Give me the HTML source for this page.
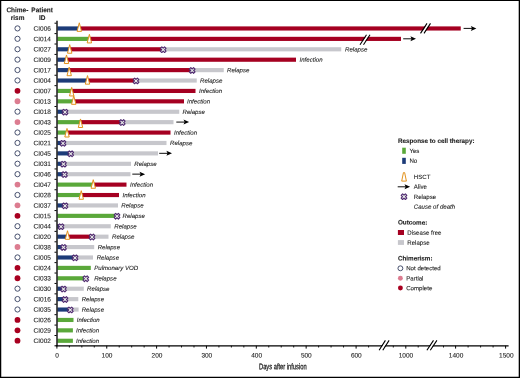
<!DOCTYPE html>
<html><head><meta charset="utf-8"><title>Swimmer plot</title>
<style>html,body{margin:0;padding:0;background:#fff}svg{display:block}text{text-rendering:geometricPrecision;font-family:"Liberation Sans",sans-serif;fill:#222;stroke:#222;stroke-width:0.1px}</style>
</head><body>
<svg width="520" height="378" viewBox="0 0 520 378">
<rect x="0" y="0" width="520" height="378" fill="#fff"/>
<path d="M0 0 H520 V378 H0 Z M1.25 1.1 V376.7 H518.7 V1.1 Z" fill="#000" fill-rule="evenodd"/>
<text transform="translate(17.4,12.15) rotate(0.1) scale(0.95,1)" font-weight="bold" font-size="6.8" text-anchor="middle" fill="#000" stroke="#000" stroke-width="0.22">Chime-</text>
<text transform="translate(17.6,19.9) rotate(0.1) scale(0.95,1)" font-weight="bold" font-size="6.8" text-anchor="middle" fill="#000" stroke="#000" stroke-width="0.22">rism</text>
<text transform="translate(42.1,12.15) rotate(0.1) scale(0.95,1)" font-weight="bold" font-size="6.8" text-anchor="middle" fill="#000" stroke="#000" stroke-width="0.22">Patient</text>
<text transform="translate(42.3,19.9) rotate(0.1) scale(0.95,1)" font-weight="bold" font-size="6.8" text-anchor="middle" fill="#000" stroke="#000" stroke-width="0.22">ID</text>
<circle cx="17.5" cy="28.40" r="2.6" fill="#fff" stroke="#47506e" stroke-width="1.0"/>
<text transform="translate(33.6,30.75) rotate(0.1)" font-size="6.5">CI006</text>
<rect x="57.50" y="26.40" width="21.80" height="4.15" fill="#1c3b78"/>
<rect x="79.30" y="26.40" width="381.45" height="4.15" fill="#a50021"/>
<path d="M421.10 33.40 L427.60 23.40 L429.90 23.40 L423.40 33.40 Z" fill="#fff"/><path d="M420.50 33.40 L427.00 23.40 M424.00 33.40 L430.50 23.40" stroke="#000" stroke-width="1.1"/>
<path d="M79.30 22.80 L81.50 31.35 L77.10 31.35 Z" fill="#fff" stroke="#e2921d" stroke-width="1.0" stroke-linejoin="round"/>
<path d="M463.60 28.40 H473.40" stroke="#000" stroke-width="0.95"/><path d="M476.40 28.40 L470.80 25.90 L472.00 28.40 L470.80 30.90 Z" fill="#000"/>
<circle cx="17.5" cy="38.81" r="2.6" fill="#fff" stroke="#47506e" stroke-width="1.0"/>
<text transform="translate(33.6,41.16) rotate(0.1)" font-size="6.5">CI014</text>
<rect x="57.50" y="36.81" width="31.90" height="4.15" fill="#5aa83a"/>
<rect x="89.40" y="36.81" width="311.60" height="4.15" fill="#a50021"/>
<path d="M360.60 44.81 L367.10 34.81 L369.40 34.81 L362.90 44.81 Z" fill="#fff"/><path d="M360.00 44.81 L366.50 34.81 M363.50 44.81 L370.00 34.81" stroke="#000" stroke-width="1.1"/>
<path d="M89.40 34.36 L91.60 42.91 L87.20 42.91 Z" fill="#fff" stroke="#e2921d" stroke-width="1.0" stroke-linejoin="round"/>
<path d="M403.20 38.81 H413.00" stroke="#000" stroke-width="0.95"/><path d="M416.00 38.81 L410.40 36.31 L411.60 38.81 L410.40 41.31 Z" fill="#000"/>
<circle cx="17.5" cy="49.22" r="2.6" fill="#fff" stroke="#47506e" stroke-width="1.0"/>
<text transform="translate(33.6,51.57) rotate(0.1)" font-size="6.5">CI027</text>
<rect x="57.50" y="47.22" width="12.20" height="4.15" fill="#1c3b78"/>
<rect x="69.70" y="47.22" width="93.50" height="4.15" fill="#a50021"/>
<rect x="163.20" y="47.22" width="178.05" height="4.15" fill="#c7c7cc"/>
<path d="M164.58 46.81 L166.06 48.29 L164.68 49.67 L166.06 51.05 L164.58 52.53 L163.20 51.15 L161.82 52.53 L160.34 51.05 L161.72 49.67 L160.34 48.29 L161.82 46.81 L163.20 48.19 Z" fill="#e9ece8" stroke="#4f2a70" stroke-width="1.1" stroke-linejoin="round"/>
<path d="M69.70 44.67 L71.90 53.22 L67.50 53.22 Z" fill="#fff" stroke="#e2921d" stroke-width="1.0" stroke-linejoin="round"/>
<text transform="translate(345,51.42) rotate(0.1)" font-size="6.1" font-style="italic">Relapse</text>
<circle cx="17.5" cy="59.63" r="2.6" fill="#fff" stroke="#47506e" stroke-width="1.0"/>
<text transform="translate(33.6,61.98) rotate(0.1)" font-size="6.5">CI009</text>
<rect x="57.50" y="57.63" width="9.00" height="4.15" fill="#1c3b78"/>
<rect x="66.50" y="57.63" width="229.50" height="4.15" fill="#a50021"/>
<path d="M66.50 54.98 L68.70 63.53 L64.30 63.53 Z" fill="#fff" stroke="#e2921d" stroke-width="1.0" stroke-linejoin="round"/>
<text transform="translate(299.5,61.83) rotate(0.1)" font-size="6.1" font-style="italic">Infection</text>
<circle cx="17.5" cy="70.04" r="2.6" fill="#fff" stroke="#47506e" stroke-width="1.0"/>
<text transform="translate(33.6,72.39) rotate(0.1)" font-size="6.5">CI017</text>
<rect x="57.50" y="68.04" width="11.70" height="4.15" fill="#1c3b78"/>
<rect x="69.20" y="68.04" width="123.00" height="4.15" fill="#a50021"/>
<rect x="192.20" y="68.04" width="31.55" height="4.15" fill="#c7c7cc"/>
<path d="M193.58 67.63 L195.06 69.11 L193.68 70.49 L195.06 71.87 L193.58 73.35 L192.20 71.97 L190.82 73.35 L189.34 71.87 L190.72 70.49 L189.34 69.11 L190.82 67.63 L192.20 69.01 Z" fill="#e9ece8" stroke="#4f2a70" stroke-width="1.1" stroke-linejoin="round"/>
<path d="M69.20 67.14 L71.40 75.69 L67.00 75.69 Z" fill="#fff" stroke="#e2921d" stroke-width="1.0" stroke-linejoin="round"/>
<text transform="translate(227,72.24) rotate(0.1)" font-size="6.1" font-style="italic">Relapse</text>
<circle cx="17.5" cy="80.45" r="2.6" fill="#fff" stroke="#47506e" stroke-width="1.0"/>
<text transform="translate(33.6,82.80) rotate(0.1)" font-size="6.5">CI004</text>
<rect x="57.50" y="78.45" width="30.00" height="4.15" fill="#1c3b78"/>
<rect x="87.50" y="78.45" width="48.50" height="4.15" fill="#a50021"/>
<rect x="136.00" y="78.45" width="60.75" height="4.15" fill="#c7c7cc"/>
<path d="M137.38 78.04 L138.86 79.52 L137.48 80.90 L138.86 82.28 L137.38 83.76 L136.00 82.38 L134.62 83.76 L133.14 82.28 L134.52 80.90 L133.14 79.52 L134.62 78.04 L136.00 79.42 Z" fill="#e9ece8" stroke="#4f2a70" stroke-width="1.1" stroke-linejoin="round"/>
<path d="M87.50 75.60 L89.70 84.15 L85.30 84.15 Z" fill="#fff" stroke="#e2921d" stroke-width="1.0" stroke-linejoin="round"/>
<text transform="translate(200,82.65) rotate(0.1)" font-size="6.1" font-style="italic">Relapse</text>
<circle cx="17.5" cy="90.86" r="2.9" fill="#a80020"/>
<text transform="translate(33.6,93.21) rotate(0.1)" font-size="6.5">CI007</text>
<rect x="57.50" y="88.86" width="14.20" height="4.15" fill="#5aa83a"/>
<rect x="71.70" y="88.86" width="123.80" height="4.15" fill="#a50021"/>
<path d="M71.70 87.41 L73.90 95.96 L69.50 95.96 Z" fill="#fff" stroke="#e2921d" stroke-width="1.0" stroke-linejoin="round"/>
<text transform="translate(199,93.06) rotate(0.1)" font-size="6.1" font-style="italic">Infection</text>
<circle cx="17.5" cy="101.27" r="2.9" fill="#dc7c90"/>
<text transform="translate(33.6,103.62) rotate(0.1)" font-size="6.5">CI013</text>
<rect x="57.50" y="99.27" width="16.25" height="4.15" fill="#5aa83a"/>
<rect x="73.75" y="99.27" width="110.25" height="4.15" fill="#a50021"/>
<path d="M73.75 95.77 L75.95 104.32 L71.55 104.32 Z" fill="#fff" stroke="#e2921d" stroke-width="1.0" stroke-linejoin="round"/>
<text transform="translate(187,103.47) rotate(0.1)" font-size="6.1" font-style="italic">Infection</text>
<circle cx="17.5" cy="111.68" r="2.6" fill="#fff" stroke="#47506e" stroke-width="1.0"/>
<text transform="translate(33.6,114.03) rotate(0.1)" font-size="6.5">CI018</text>
<rect x="57.50" y="109.68" width="7.50" height="4.15" fill="#1c3b78"/>
<rect x="65.00" y="109.68" width="114.25" height="4.15" fill="#c7c7cc"/>
<path d="M66.38 109.27 L67.86 110.75 L66.48 112.13 L67.86 113.51 L66.38 114.99 L65.00 113.61 L63.62 114.99 L62.14 113.51 L63.52 112.13 L62.14 110.75 L63.62 109.27 L65.00 110.65 Z" fill="#e9ece8" stroke="#4f2a70" stroke-width="1.1" stroke-linejoin="round"/>
<text transform="translate(182.5,113.88) rotate(0.1)" font-size="6.1" font-style="italic">Relapse</text>
<circle cx="17.5" cy="122.09" r="2.9" fill="#dc7c90"/>
<text transform="translate(33.6,124.44) rotate(0.1)" font-size="6.5">CI043</text>
<rect x="57.50" y="120.09" width="23.00" height="4.15" fill="#5aa83a"/>
<rect x="80.50" y="120.09" width="41.75" height="4.15" fill="#a50021"/>
<rect x="122.25" y="120.09" width="51.25" height="4.15" fill="#c7c7cc"/>
<path d="M123.63 119.68 L125.11 121.16 L123.73 122.54 L125.11 123.92 L123.63 125.40 L122.25 124.02 L120.87 125.40 L119.39 123.92 L120.77 122.54 L119.39 121.16 L120.87 119.68 L122.25 121.06 Z" fill="#e9ece8" stroke="#4f2a70" stroke-width="1.1" stroke-linejoin="round"/>
<path d="M80.50 118.94 L82.70 127.49 L78.30 127.49 Z" fill="#fff" stroke="#e2921d" stroke-width="1.0" stroke-linejoin="round"/>
<path d="M176.30 122.09 H186.10" stroke="#000" stroke-width="0.95"/><path d="M189.10 122.09 L183.50 119.59 L184.70 122.09 L183.50 124.59 Z" fill="#000"/>
<circle cx="17.5" cy="132.50" r="2.6" fill="#fff" stroke="#47506e" stroke-width="1.0"/>
<text transform="translate(33.6,134.85) rotate(0.1)" font-size="6.5">CI025</text>
<rect x="57.50" y="130.50" width="9.50" height="4.15" fill="#5aa83a"/>
<rect x="67.00" y="130.50" width="103.50" height="4.15" fill="#a50021"/>
<path d="M67.00 128.45 L69.20 137.00 L64.80 137.00 Z" fill="#fff" stroke="#e2921d" stroke-width="1.0" stroke-linejoin="round"/>
<text transform="translate(174,134.70) rotate(0.1)" font-size="6.1" font-style="italic">Infection</text>
<circle cx="17.5" cy="142.91" r="2.6" fill="#fff" stroke="#47506e" stroke-width="1.0"/>
<text transform="translate(33.6,145.26) rotate(0.1)" font-size="6.5">CI021</text>
<rect x="57.50" y="140.91" width="5.50" height="4.15" fill="#1c3b78"/>
<rect x="63.00" y="140.91" width="103.50" height="4.15" fill="#c7c7cc"/>
<path d="M64.38 140.50 L65.86 141.98 L64.48 143.36 L65.86 144.74 L64.38 146.22 L63.00 144.84 L61.62 146.22 L60.14 144.74 L61.52 143.36 L60.14 141.98 L61.62 140.50 L63.00 141.88 Z" fill="#e9ece8" stroke="#4f2a70" stroke-width="1.1" stroke-linejoin="round"/>
<text transform="translate(170,145.11) rotate(0.1)" font-size="6.1" font-style="italic">Relapse</text>
<circle cx="17.5" cy="153.32" r="2.6" fill="#fff" stroke="#47506e" stroke-width="1.0"/>
<text transform="translate(33.6,155.67) rotate(0.1)" font-size="6.5">CI045</text>
<rect x="57.50" y="151.32" width="13.20" height="4.15" fill="#1c3b78"/>
<rect x="70.70" y="151.32" width="87.30" height="4.15" fill="#c7c7cc"/>
<path d="M72.08 150.91 L73.56 152.39 L72.18 153.77 L73.56 155.15 L72.08 156.63 L70.70 155.25 L69.32 156.63 L67.84 155.15 L69.22 153.77 L67.84 152.39 L69.32 150.91 L70.70 152.29 Z" fill="#e9ece8" stroke="#4f2a70" stroke-width="1.1" stroke-linejoin="round"/>
<path d="M159.20 153.32 H169.00" stroke="#000" stroke-width="0.95"/><path d="M172.00 153.32 L166.40 150.82 L167.60 153.32 L166.40 155.82 Z" fill="#000"/>
<circle cx="17.5" cy="163.73" r="2.6" fill="#fff" stroke="#47506e" stroke-width="1.0"/>
<text transform="translate(33.6,166.08) rotate(0.1)" font-size="6.5">CI031</text>
<rect x="57.50" y="161.73" width="6.00" height="4.15" fill="#1c3b78"/>
<rect x="63.50" y="161.73" width="67.50" height="4.15" fill="#c7c7cc"/>
<path d="M64.88 161.32 L66.36 162.80 L64.98 164.18 L66.36 165.56 L64.88 167.04 L63.50 165.66 L62.12 167.04 L60.64 165.56 L62.02 164.18 L60.64 162.80 L62.12 161.32 L63.50 162.70 Z" fill="#e9ece8" stroke="#4f2a70" stroke-width="1.1" stroke-linejoin="round"/>
<text transform="translate(134.25,165.93) rotate(0.1)" font-size="6.1" font-style="italic">Relapse</text>
<circle cx="17.5" cy="174.14" r="2.6" fill="#fff" stroke="#47506e" stroke-width="1.0"/>
<text transform="translate(33.6,176.49) rotate(0.1)" font-size="6.5">CI046</text>
<rect x="57.50" y="172.14" width="7.00" height="4.15" fill="#1c3b78"/>
<rect x="64.50" y="172.14" width="66.00" height="4.15" fill="#c7c7cc"/>
<path d="M65.88 171.73 L67.36 173.21 L65.98 174.59 L67.36 175.97 L65.88 177.45 L64.50 176.07 L63.12 177.45 L61.64 175.97 L63.02 174.59 L61.64 173.21 L63.12 171.73 L64.50 173.11 Z" fill="#e9ece8" stroke="#4f2a70" stroke-width="1.1" stroke-linejoin="round"/>
<path d="M132.30 174.14 H142.10" stroke="#000" stroke-width="0.95"/><path d="M145.10 174.14 L139.50 171.64 L140.70 174.14 L139.50 176.64 Z" fill="#000"/>
<circle cx="17.5" cy="184.55" r="2.9" fill="#dc7c90"/>
<text transform="translate(33.6,186.90) rotate(0.1)" font-size="6.5">CI047</text>
<rect x="57.50" y="182.55" width="35.75" height="4.15" fill="#5aa83a"/>
<rect x="93.25" y="182.55" width="33.25" height="4.15" fill="#a50021"/>
<path d="M93.25 179.70 L95.45 188.25 L91.05 188.25 Z" fill="#fff" stroke="#e2921d" stroke-width="1.0" stroke-linejoin="round"/>
<text transform="translate(130,186.75) rotate(0.1)" font-size="6.1" font-style="italic">Infection</text>
<circle cx="17.5" cy="194.96" r="2.6" fill="#fff" stroke="#47506e" stroke-width="1.0"/>
<text transform="translate(33.6,197.31) rotate(0.1)" font-size="6.5">CI028</text>
<rect x="57.50" y="192.96" width="23.75" height="4.15" fill="#5aa83a"/>
<rect x="81.25" y="192.96" width="37.75" height="4.15" fill="#a50021"/>
<path d="M81.25 190.71 L83.45 199.26 L79.05 199.26 Z" fill="#fff" stroke="#e2921d" stroke-width="1.0" stroke-linejoin="round"/>
<text transform="translate(122.5,197.16) rotate(0.1)" font-size="6.1" font-style="italic">Infection</text>
<circle cx="17.5" cy="205.37" r="2.9" fill="#dc7c90"/>
<text transform="translate(33.6,207.72) rotate(0.1)" font-size="6.5">CI037</text>
<rect x="57.50" y="203.37" width="7.50" height="4.15" fill="#1c3b78"/>
<rect x="65.00" y="203.37" width="53.00" height="4.15" fill="#c7c7cc"/>
<path d="M66.38 202.96 L67.86 204.44 L66.48 205.82 L67.86 207.20 L66.38 208.68 L65.00 207.30 L63.62 208.68 L62.14 207.20 L63.52 205.82 L62.14 204.44 L63.62 202.96 L65.00 204.34 Z" fill="#e9ece8" stroke="#4f2a70" stroke-width="1.1" stroke-linejoin="round"/>
<text transform="translate(121.25,207.57) rotate(0.1)" font-size="6.1" font-style="italic">Relapse</text>
<circle cx="17.5" cy="215.78" r="2.9" fill="#a80020"/>
<text transform="translate(33.6,218.13) rotate(0.1)" font-size="6.5">CI015</text>
<rect x="57.50" y="213.78" width="59.00" height="4.15" fill="#5aa83a"/>
<path d="M118.38 213.37 L119.86 214.85 L118.48 216.23 L119.86 217.61 L118.38 219.09 L117.00 217.71 L115.62 219.09 L114.14 217.61 L115.52 216.23 L114.14 214.85 L115.62 213.37 L117.00 214.75 Z" fill="#e9ece8" stroke="#4f2a70" stroke-width="1.1" stroke-linejoin="round"/>
<text transform="translate(122.5,217.98) rotate(0.1)" font-size="6.1" font-style="italic">Relapse</text>
<circle cx="17.5" cy="226.19" r="2.6" fill="#fff" stroke="#47506e" stroke-width="1.0"/>
<text transform="translate(33.6,228.54) rotate(0.1)" font-size="6.5">CI044</text>
<rect x="57.50" y="224.19" width="3.50" height="4.15" fill="#1c3b78"/>
<rect x="61.00" y="224.19" width="49.75" height="4.15" fill="#c7c7cc"/>
<path d="M62.38 223.78 L63.86 225.26 L62.48 226.64 L63.86 228.02 L62.38 229.50 L61.00 228.12 L59.62 229.50 L58.14 228.02 L59.52 226.64 L58.14 225.26 L59.62 223.78 L61.00 225.16 Z" fill="#e9ece8" stroke="#4f2a70" stroke-width="1.1" stroke-linejoin="round"/>
<text transform="translate(114.25,228.39) rotate(0.1)" font-size="6.1" font-style="italic">Relapse</text>
<circle cx="17.5" cy="236.60" r="2.6" fill="#fff" stroke="#47506e" stroke-width="1.0"/>
<text transform="translate(33.6,238.95) rotate(0.1)" font-size="6.5">CI020</text>
<rect x="57.50" y="234.60" width="10.00" height="4.15" fill="#1c3b78"/>
<rect x="67.50" y="234.60" width="24.50" height="4.15" fill="#a50021"/>
<rect x="92.00" y="234.60" width="16.50" height="4.15" fill="#c7c7cc"/>
<path d="M93.38 234.19 L94.86 235.67 L93.48 237.05 L94.86 238.43 L93.38 239.91 L92.00 238.53 L90.62 239.91 L89.14 238.43 L90.52 237.05 L89.14 235.67 L90.62 234.19 L92.00 235.57 Z" fill="#e9ece8" stroke="#4f2a70" stroke-width="1.1" stroke-linejoin="round"/>
<path d="M67.50 230.75 L69.70 239.30 L65.30 239.30 Z" fill="#fff" stroke="#e2921d" stroke-width="1.0" stroke-linejoin="round"/>
<text transform="translate(112,238.80) rotate(0.1)" font-size="6.1" font-style="italic">Relapse</text>
<circle cx="17.5" cy="247.01" r="2.9" fill="#dc7c90"/>
<text transform="translate(33.6,249.36) rotate(0.1)" font-size="6.5">CI038</text>
<rect x="57.50" y="245.01" width="6.00" height="4.15" fill="#1c3b78"/>
<rect x="63.50" y="245.01" width="30.70" height="4.15" fill="#c7c7cc"/>
<path d="M64.88 244.60 L66.36 246.08 L64.98 247.46 L66.36 248.84 L64.88 250.32 L63.50 248.94 L62.12 250.32 L60.64 248.84 L62.02 247.46 L60.64 246.08 L62.12 244.60 L63.50 245.98 Z" fill="#e9ece8" stroke="#4f2a70" stroke-width="1.1" stroke-linejoin="round"/>
<text transform="translate(97.7,249.21) rotate(0.1)" font-size="6.1" font-style="italic">Relapse</text>
<circle cx="17.5" cy="257.42" r="2.6" fill="#fff" stroke="#47506e" stroke-width="1.0"/>
<text transform="translate(33.6,259.77) rotate(0.1)" font-size="6.5">CI005</text>
<rect x="57.50" y="255.42" width="17.50" height="4.15" fill="#1c3b78"/>
<rect x="75.00" y="255.42" width="18.00" height="4.15" fill="#c7c7cc"/>
<path d="M76.38 255.01 L77.86 256.49 L76.48 257.87 L77.86 259.25 L76.38 260.73 L75.00 259.35 L73.62 260.73 L72.14 259.25 L73.52 257.87 L72.14 256.49 L73.62 255.01 L75.00 256.39 Z" fill="#e9ece8" stroke="#4f2a70" stroke-width="1.1" stroke-linejoin="round"/>
<text transform="translate(96.7,259.62) rotate(0.1)" font-size="6.1" font-style="italic">Relapse</text>
<circle cx="17.5" cy="267.83" r="2.9" fill="#a80020"/>
<text transform="translate(33.6,270.18) rotate(0.1)" font-size="6.5">CI024</text>
<rect x="57.50" y="265.83" width="33.30" height="4.15" fill="#5aa83a"/>
<text transform="translate(94.2,270.03) rotate(0.1)" font-size="6.1" font-style="italic">Pulmonary VOD</text>
<circle cx="17.5" cy="278.24" r="2.9" fill="#a80020"/>
<text transform="translate(33.6,280.59) rotate(0.1)" font-size="6.5">CI033</text>
<rect x="57.50" y="276.24" width="28.30" height="4.15" fill="#5aa83a"/>
<path d="M87.18 275.83 L88.66 277.31 L87.28 278.69 L88.66 280.07 L87.18 281.55 L85.80 280.17 L84.42 281.55 L82.94 280.07 L84.32 278.69 L82.94 277.31 L84.42 275.83 L85.80 277.21 Z" fill="#e9ece8" stroke="#4f2a70" stroke-width="1.1" stroke-linejoin="round"/>
<text transform="translate(94.2,280.44) rotate(0.1)" font-size="6.1" font-style="italic">Relapse</text>
<circle cx="17.5" cy="288.65" r="2.6" fill="#fff" stroke="#47506e" stroke-width="1.0"/>
<text transform="translate(33.6,291.00) rotate(0.1)" font-size="6.5">CI030</text>
<rect x="57.50" y="286.65" width="6.00" height="4.15" fill="#1c3b78"/>
<rect x="63.50" y="286.65" width="20.30" height="4.15" fill="#c7c7cc"/>
<path d="M64.88 286.24 L66.36 287.72 L64.98 289.10 L66.36 290.48 L64.88 291.96 L63.50 290.58 L62.12 291.96 L60.64 290.48 L62.02 289.10 L60.64 287.72 L62.12 286.24 L63.50 287.62 Z" fill="#e9ece8" stroke="#4f2a70" stroke-width="1.1" stroke-linejoin="round"/>
<text transform="translate(87.1,290.85) rotate(0.1)" font-size="6.1" font-style="italic">Relapse</text>
<circle cx="17.5" cy="299.06" r="2.6" fill="#fff" stroke="#47506e" stroke-width="1.0"/>
<text transform="translate(33.6,301.41) rotate(0.1)" font-size="6.5">CI016</text>
<rect x="57.50" y="297.06" width="7.50" height="4.15" fill="#1c3b78"/>
<rect x="65.00" y="297.06" width="13.30" height="4.15" fill="#c7c7cc"/>
<path d="M66.38 296.65 L67.86 298.13 L66.48 299.51 L67.86 300.89 L66.38 302.37 L65.00 300.99 L63.62 302.37 L62.14 300.89 L63.52 299.51 L62.14 298.13 L63.62 296.65 L65.00 298.03 Z" fill="#e9ece8" stroke="#4f2a70" stroke-width="1.1" stroke-linejoin="round"/>
<text transform="translate(81.7,301.26) rotate(0.1)" font-size="6.1" font-style="italic">Relapse</text>
<circle cx="17.5" cy="309.47" r="2.6" fill="#fff" stroke="#47506e" stroke-width="1.0"/>
<text transform="translate(33.6,311.82) rotate(0.1)" font-size="6.5">CI035</text>
<rect x="57.50" y="307.47" width="12.80" height="4.15" fill="#1c3b78"/>
<rect x="70.30" y="307.47" width="8.30" height="4.15" fill="#c7c7cc"/>
<path d="M71.68 307.06 L73.16 308.54 L71.78 309.92 L73.16 311.30 L71.68 312.78 L70.30 311.40 L68.92 312.78 L67.44 311.30 L68.82 309.92 L67.44 308.54 L68.92 307.06 L70.30 308.44 Z" fill="#e9ece8" stroke="#4f2a70" stroke-width="1.1" stroke-linejoin="round"/>
<text transform="translate(81.7,311.67) rotate(0.1)" font-size="6.1" font-style="italic">Relapse</text>
<circle cx="17.5" cy="319.88" r="2.9" fill="#a80020"/>
<text transform="translate(33.6,322.23) rotate(0.1)" font-size="6.5">CI026</text>
<rect x="57.50" y="317.88" width="16.00" height="4.15" fill="#5aa83a"/>
<text transform="translate(76.7,322.08) rotate(0.1)" font-size="6.1" font-style="italic">Infection</text>
<circle cx="17.5" cy="330.29" r="2.9" fill="#a80020"/>
<text transform="translate(33.6,332.64) rotate(0.1)" font-size="6.5">CI029</text>
<rect x="57.50" y="328.29" width="15.40" height="4.15" fill="#5aa83a"/>
<text transform="translate(76,332.49) rotate(0.1)" font-size="6.1" font-style="italic">Infection</text>
<circle cx="17.5" cy="340.70" r="2.9" fill="#a80020"/>
<text transform="translate(33.6,343.05) rotate(0.1)" font-size="6.5">CI002</text>
<rect x="57.50" y="338.70" width="15.40" height="4.15" fill="#5aa83a"/>
<text transform="translate(76,342.90) rotate(0.1)" font-size="6.1" font-style="italic">Infection</text>
<path d="M57 20.7 V346.3" stroke="#000" stroke-width="1.35"/>
<path d="M54.5 23.20 H56.6" stroke="#000" stroke-width="1.0"/>
<path d="M54.5 33.61 H56.6" stroke="#000" stroke-width="1.0"/>
<path d="M54.5 44.02 H56.6" stroke="#000" stroke-width="1.0"/>
<path d="M54.5 54.42 H56.6" stroke="#000" stroke-width="1.0"/>
<path d="M54.5 64.84 H56.6" stroke="#000" stroke-width="1.0"/>
<path d="M54.5 75.25 H56.6" stroke="#000" stroke-width="1.0"/>
<path d="M54.5 85.66 H56.6" stroke="#000" stroke-width="1.0"/>
<path d="M54.5 96.06 H56.6" stroke="#000" stroke-width="1.0"/>
<path d="M54.5 106.47 H56.6" stroke="#000" stroke-width="1.0"/>
<path d="M54.5 116.88 H56.6" stroke="#000" stroke-width="1.0"/>
<path d="M54.5 127.29 H56.6" stroke="#000" stroke-width="1.0"/>
<path d="M54.5 137.71 H56.6" stroke="#000" stroke-width="1.0"/>
<path d="M54.5 148.12 H56.6" stroke="#000" stroke-width="1.0"/>
<path d="M54.5 158.53 H56.6" stroke="#000" stroke-width="1.0"/>
<path d="M54.5 168.94 H56.6" stroke="#000" stroke-width="1.0"/>
<path d="M54.5 179.34 H56.6" stroke="#000" stroke-width="1.0"/>
<path d="M54.5 189.75 H56.6" stroke="#000" stroke-width="1.0"/>
<path d="M54.5 200.16 H56.6" stroke="#000" stroke-width="1.0"/>
<path d="M54.5 210.57 H56.6" stroke="#000" stroke-width="1.0"/>
<path d="M54.5 220.98 H56.6" stroke="#000" stroke-width="1.0"/>
<path d="M54.5 231.39 H56.6" stroke="#000" stroke-width="1.0"/>
<path d="M54.5 241.81 H56.6" stroke="#000" stroke-width="1.0"/>
<path d="M54.5 252.22 H56.6" stroke="#000" stroke-width="1.0"/>
<path d="M54.5 262.62 H56.6" stroke="#000" stroke-width="1.0"/>
<path d="M54.5 273.04 H56.6" stroke="#000" stroke-width="1.0"/>
<path d="M54.5 283.44 H56.6" stroke="#000" stroke-width="1.0"/>
<path d="M54.5 293.86 H56.6" stroke="#000" stroke-width="1.0"/>
<path d="M54.5 304.26 H56.6" stroke="#000" stroke-width="1.0"/>
<path d="M54.5 314.68 H56.6" stroke="#000" stroke-width="1.0"/>
<path d="M54.5 325.08 H56.6" stroke="#000" stroke-width="1.0"/>
<path d="M54.5 335.50 H56.6" stroke="#000" stroke-width="1.0"/>
<path d="M54.5 345.8 H57" stroke="#000" stroke-width="1.1"/>
<path d="M56.4 345.8 H508.6" stroke="#000" stroke-width="1.25"/>
<path d="M56.90 345.8 V348.6" stroke="#000" stroke-width="1.0"/>
<text transform="translate(57,357.55) rotate(0.1)" font-size="6.5" text-anchor="middle">0</text>
<path d="M106.75 345.8 V348.6" stroke="#000" stroke-width="1.0"/>
<text transform="translate(107,357.55) rotate(0.1)" font-size="6.5" text-anchor="middle">100</text>
<path d="M156.60 345.8 V348.6" stroke="#000" stroke-width="1.0"/>
<text transform="translate(157,357.55) rotate(0.1)" font-size="6.5" text-anchor="middle">200</text>
<path d="M206.45 345.8 V348.6" stroke="#000" stroke-width="1.0"/>
<text transform="translate(206.8,357.55) rotate(0.1)" font-size="6.5" text-anchor="middle">300</text>
<path d="M256.30 345.8 V348.6" stroke="#000" stroke-width="1.0"/>
<text transform="translate(256.6,357.55) rotate(0.1)" font-size="6.5" text-anchor="middle">400</text>
<path d="M306.15 345.8 V348.6" stroke="#000" stroke-width="1.0"/>
<text transform="translate(306.3,357.55) rotate(0.1)" font-size="6.5" text-anchor="middle">500</text>
<path d="M356.10 345.8 V348.6" stroke="#000" stroke-width="1.0"/>
<text transform="translate(356.3,357.55) rotate(0.1)" font-size="6.5" text-anchor="middle">600</text>
<path d="M405.80 345.8 V348.6" stroke="#000" stroke-width="1.0"/>
<text transform="translate(405.9,357.55) rotate(0.1)" font-size="6.5" text-anchor="middle">1000</text>
<path d="M455.60 345.8 V348.6" stroke="#000" stroke-width="1.0"/>
<text transform="translate(456.1,357.55) rotate(0.1)" font-size="6.5" text-anchor="middle">1400</text>
<path d="M505.60 345.8 V348.6" stroke="#000" stroke-width="1.0"/>
<text transform="translate(506.3,357.55) rotate(0.1)" font-size="6.5" text-anchor="middle">1500</text>
<path d="M69.36 345.8 V347.5" stroke="#000" stroke-width="0.9"/>
<path d="M81.83 345.8 V347.5" stroke="#000" stroke-width="0.9"/>
<path d="M94.29 345.8 V347.5" stroke="#000" stroke-width="0.9"/>
<path d="M119.21 345.8 V347.5" stroke="#000" stroke-width="0.9"/>
<path d="M131.68 345.8 V347.5" stroke="#000" stroke-width="0.9"/>
<path d="M144.14 345.8 V347.5" stroke="#000" stroke-width="0.9"/>
<path d="M169.06 345.8 V347.5" stroke="#000" stroke-width="0.9"/>
<path d="M181.53 345.8 V347.5" stroke="#000" stroke-width="0.9"/>
<path d="M193.99 345.8 V347.5" stroke="#000" stroke-width="0.9"/>
<path d="M218.91 345.8 V347.5" stroke="#000" stroke-width="0.9"/>
<path d="M231.38 345.8 V347.5" stroke="#000" stroke-width="0.9"/>
<path d="M243.84 345.8 V347.5" stroke="#000" stroke-width="0.9"/>
<path d="M268.76 345.8 V347.5" stroke="#000" stroke-width="0.9"/>
<path d="M281.22 345.8 V347.5" stroke="#000" stroke-width="0.9"/>
<path d="M293.69 345.8 V347.5" stroke="#000" stroke-width="0.9"/>
<path d="M318.61 345.8 V347.5" stroke="#000" stroke-width="0.9"/>
<path d="M331.07 345.8 V347.5" stroke="#000" stroke-width="0.9"/>
<path d="M343.54 345.8 V347.5" stroke="#000" stroke-width="0.9"/>
<path d="M368.60 345.8 V347.5" stroke="#000" stroke-width="0.9"/>
<path d="M393.30 345.8 V347.5" stroke="#000" stroke-width="0.9"/>
<path d="M418.20 345.8 V347.5" stroke="#000" stroke-width="0.9"/>
<path d="M443.50 345.8 V347.5" stroke="#000" stroke-width="0.9"/>
<path d="M468.10 345.8 V347.5" stroke="#000" stroke-width="0.9"/>
<path d="M480.60 345.8 V347.5" stroke="#000" stroke-width="0.9"/>
<path d="M493.10 345.8 V347.5" stroke="#000" stroke-width="0.9"/>
<path d="M379.70 350.20 L386.00 340.40 L388.50 340.40 L382.20 350.20 Z" fill="#fff"/><path d="M379.10 350.20 L385.40 340.40 M382.80 350.20 L389.10 340.40" stroke="#000" stroke-width="1.1"/>
<path d="M427.50 350.20 L434.10 340.40 L436.30 340.40 L429.70 350.20 Z" fill="#fff"/><path d="M426.90 350.20 L433.50 340.40 M430.30 350.20 L436.90 340.40" stroke="#000" stroke-width="1.1"/>
<text transform="translate(282.8,369.3) rotate(0.1)" font-size="8.2" text-anchor="middle" textLength="47.6" lengthAdjust="spacingAndGlyphs" style="stroke-width:0.28px">Days after infusion</text>
<g font-size="6.1">
<text transform="translate(397.9,142.9) rotate(0.1) scale(0.955,1)" font-weight="bold" font-size="6.6" text-anchor="start" fill="#000" stroke="#000" stroke-width="0.22">Response to cell therapy:</text>
<rect x="402.2" y="147.7" width="3.6" height="6.1" fill="#5aa83a"/><text transform="translate(409.4,153.1) rotate(0.1)">Yes</text>
<rect x="402.2" y="157.8" width="3.6" height="6.1" fill="#1c3b78"/><text transform="translate(409.4,162.8) rotate(0.1)">No</text>
<path d="M403.45 172.6 L404.65 172.6 L406.4 181.1 L401.7 181.1 Z" fill="#fff" stroke="#e2921d" stroke-width="1.0" stroke-linejoin="round"/>
<text transform="translate(413.8,179.0) rotate(0.1)">HSCT</text>
<path d="M397.70 186.80 H407.10" stroke="#000" stroke-width="0.95"/><path d="M410.10 186.80 L404.50 184.30 L405.70 186.80 L404.50 189.30 Z" fill="#000"/>
<text transform="translate(413.8,188.85) rotate(0.1)">Alive</text>
<path d="M405.38 193.79 L406.86 195.27 L405.48 196.65 L406.86 198.03 L405.38 199.51 L404.00 198.13 L402.62 199.51 L401.14 198.03 L402.52 196.65 L401.14 195.27 L402.62 193.79 L404.00 195.17 Z" fill="#e9ece8" stroke="#4f2a70" stroke-width="1.1" stroke-linejoin="round"/>
<text transform="translate(413.8,198.9) rotate(0.1)">Relapse</text>
<text transform="translate(413.8,208.7) rotate(0.1)" font-style="italic">Cause of death</text>
<text transform="translate(397.9,224.6) rotate(0.1) scale(0.955,1)" font-weight="bold" font-size="6.6" text-anchor="start" fill="#000" stroke="#000" stroke-width="0.22">Outcome:</text>
<rect x="397.9" y="230" width="6.1" height="5" fill="#a50021"/><text transform="translate(407.3,234.8) rotate(0.1)">Disease free</text>
<rect x="397.9" y="240.1" width="6.1" height="4.8" fill="#c7c7cc"/><text transform="translate(407.3,244.7) rotate(0.1)">Relapse</text>
<text transform="translate(397.9,260.4) rotate(0.1) scale(0.955,1)" font-weight="bold" font-size="6.6" text-anchor="start" fill="#000" stroke="#000" stroke-width="0.22">Chimerism:</text>
<circle cx="400.4" cy="268.30" r="2.45" fill="#fff" stroke="#47506e" stroke-width="1.0"/><text transform="translate(406.2,270.3) rotate(0.1)">Not detected</text>
<circle cx="400.4" cy="278.20" r="2.4499999999999997" fill="#dc7c90"/><text transform="translate(406.2,280.4) rotate(0.1)">Partial</text>
<circle cx="400.4" cy="288.00" r="2.4499999999999997" fill="#a80020"/><text transform="translate(406.2,290.2) rotate(0.1)">Complete</text>
</g>
</svg></body></html>
